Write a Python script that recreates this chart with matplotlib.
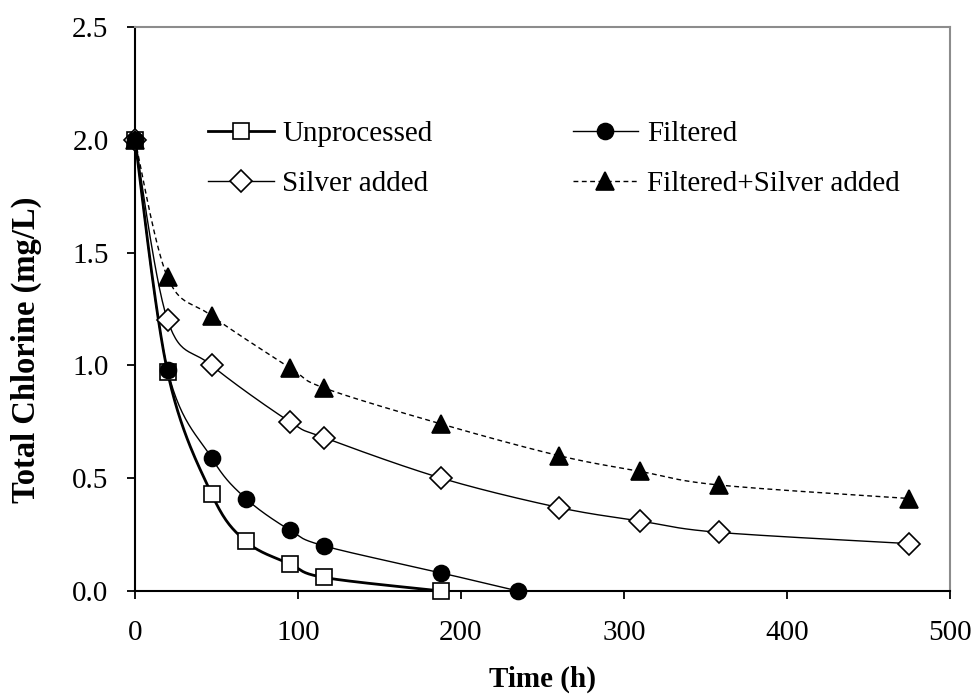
import numpy as np
import matplotlib
matplotlib.use("Agg")
import matplotlib.pyplot as plt
from matplotlib.lines import Line2D

plt.rcParams["font.family"] = ["Liberation Serif", "DejaVu Serif"]

# Sampling times (h) and total chlorine (mg/L) for each treatment
t_unprocessed = [0, 20, 47, 68, 95, 116, 188]
c_unprocessed = [2.0, 0.97, 0.43, 0.22, 0.12, 0.06, 0.0]

t_filtered = [0, 20, 47, 68, 95, 116, 188, 235]
c_filtered = [2.0, 0.98, 0.59, 0.41, 0.27, 0.20, 0.08, 0.0]

t_silver = [0, 20, 47, 95, 116, 188, 260, 310, 358, 475]
c_silver = [2.0, 1.20, 1.00, 0.75, 0.68, 0.50, 0.37, 0.31, 0.26, 0.21]

t_filt_silver = [0, 20, 47, 95, 116, 188, 260, 310, 358, 475]
c_filt_silver = [2.0, 1.39, 1.22, 0.99, 0.90, 0.74, 0.60, 0.53, 0.47, 0.41]

x_ticks = [0, 100, 200, 300, 400, 500]
y_ticks = [0.0, 0.5, 1.0, 1.5, 2.0, 2.5]
y_tick_labels = ["0.0", "0.5", "1.0", "1.5", "2.0", "2.5"]

X_MAX, Y_MAX = 500, 2.5


def smooth(xs, ys, sx=815.0, sy=564.0, n=30):
    """Cubic Bezier smoothing through every point (spreadsheet-style)."""
    p = np.column_stack([np.asarray(xs, float) / X_MAX * sx,
                         np.asarray(ys, float) / Y_MAX * sy])
    ext = np.vstack([p[0], p, p[-1]])
    out = [p[0]]
    tt = np.linspace(0, 1, n)[1:, None]
    for i in range(len(p) - 1):
        p0, p1, p2, p3 = ext[i], ext[i + 1], ext[i + 2], ext[i + 3]
        c1 = p1 + (p2 - p0) / 6.0
        c2 = p2 - (p3 - p1) / 6.0
        seg = ((1 - tt) ** 3) * p1 + 3 * ((1 - tt) ** 2) * tt * c1 \
            + 3 * (1 - tt) * tt ** 2 * c2 + tt ** 3 * p2
        out.extend(seg)
    out = np.array(out)
    return out[:, 0] / sx * X_MAX, out[:, 1] / sy * Y_MAX


fig = plt.figure(figsize=(9.73, 6.98), dpi=100)
ax = fig.add_axes([135 / 973, 1 - 591 / 698, 815 / 973, 564 / 698])

series = [
    (t_unprocessed, c_unprocessed, dict(lw=2.0, ls="-"),
     dict(marker="s", ms=11, mfc="white"), "Unprocessed"),
    (t_silver, c_silver, dict(lw=1.0, ls="-"),
     dict(marker="D", ms=11.5, mfc="white"), "Silver added"),
    (t_filtered, c_filtered, dict(lw=1.0, ls="-"),
     dict(marker="o", ms=11.5, mfc="black"), "Filtered"),
    (t_filt_silver, c_filt_silver, dict(lw=1.0, ls=(0, (3.5, 2.5))),
     dict(marker="^", ms=13.5, mfc="black"), "Filtered+Silver added"),
]

handles = []
for xs, ys, lstyle, mstyle, label in series:
    sxv, syv = smooth(xs, ys)
    ax.plot(sxv, syv, color="black", zorder=2, clip_on=False, **lstyle)
    ax.plot(xs, ys, ls="none", mec="black", mew=1.2, color="black",
            zorder=3, clip_on=False, **mstyle)
    handles.append(Line2D([], [], color="black", mec="black", mew=1.2,
                          label=label, **lstyle, **mstyle))

ax.set_xlim(0, X_MAX)
ax.set_ylim(0, Y_MAX)
ax.set_xticks(x_ticks)
ax.set_yticks(y_ticks)
ax.set_yticklabels(y_tick_labels)
ax.tick_params(axis="both", direction="out", length=6, width=1.3,
               labelsize=21)
ax.tick_params(axis="x", pad=15)
ax.tick_params(axis="y", pad=13)

for side in ("left", "bottom"):
    ax.spines[side].set_color("black")
    ax.spines[side].set_linewidth(1.5)
for side in ("top", "right"):
    ax.spines[side].set_color("#8c8c8c")
    ax.spines[side].set_linewidth(1.5)

ax.set_xlabel("Time (h)", fontsize=21, fontweight="bold", labelpad=14)
ax.set_ylabel("Total Chlorine (mg/L)", fontsize=23.5, fontweight="bold")
ax.yaxis.set_label_coords((42 - 135) / 815, (591 - 350) / 564)

leg = ax.legend(handles=handles, ncol=2, frameon=False, fontsize=21,
                loc="upper left",
                bbox_to_anchor=(208 / 973, 1 - 121 / 698),
                bbox_transform=fig.transFigure,
                borderpad=0, borderaxespad=0, handlelength=2.25,
                handletextpad=0.3, columnspacing=4.8, labelspacing=0.8)

fig.savefig("out.png", dpi=100)
